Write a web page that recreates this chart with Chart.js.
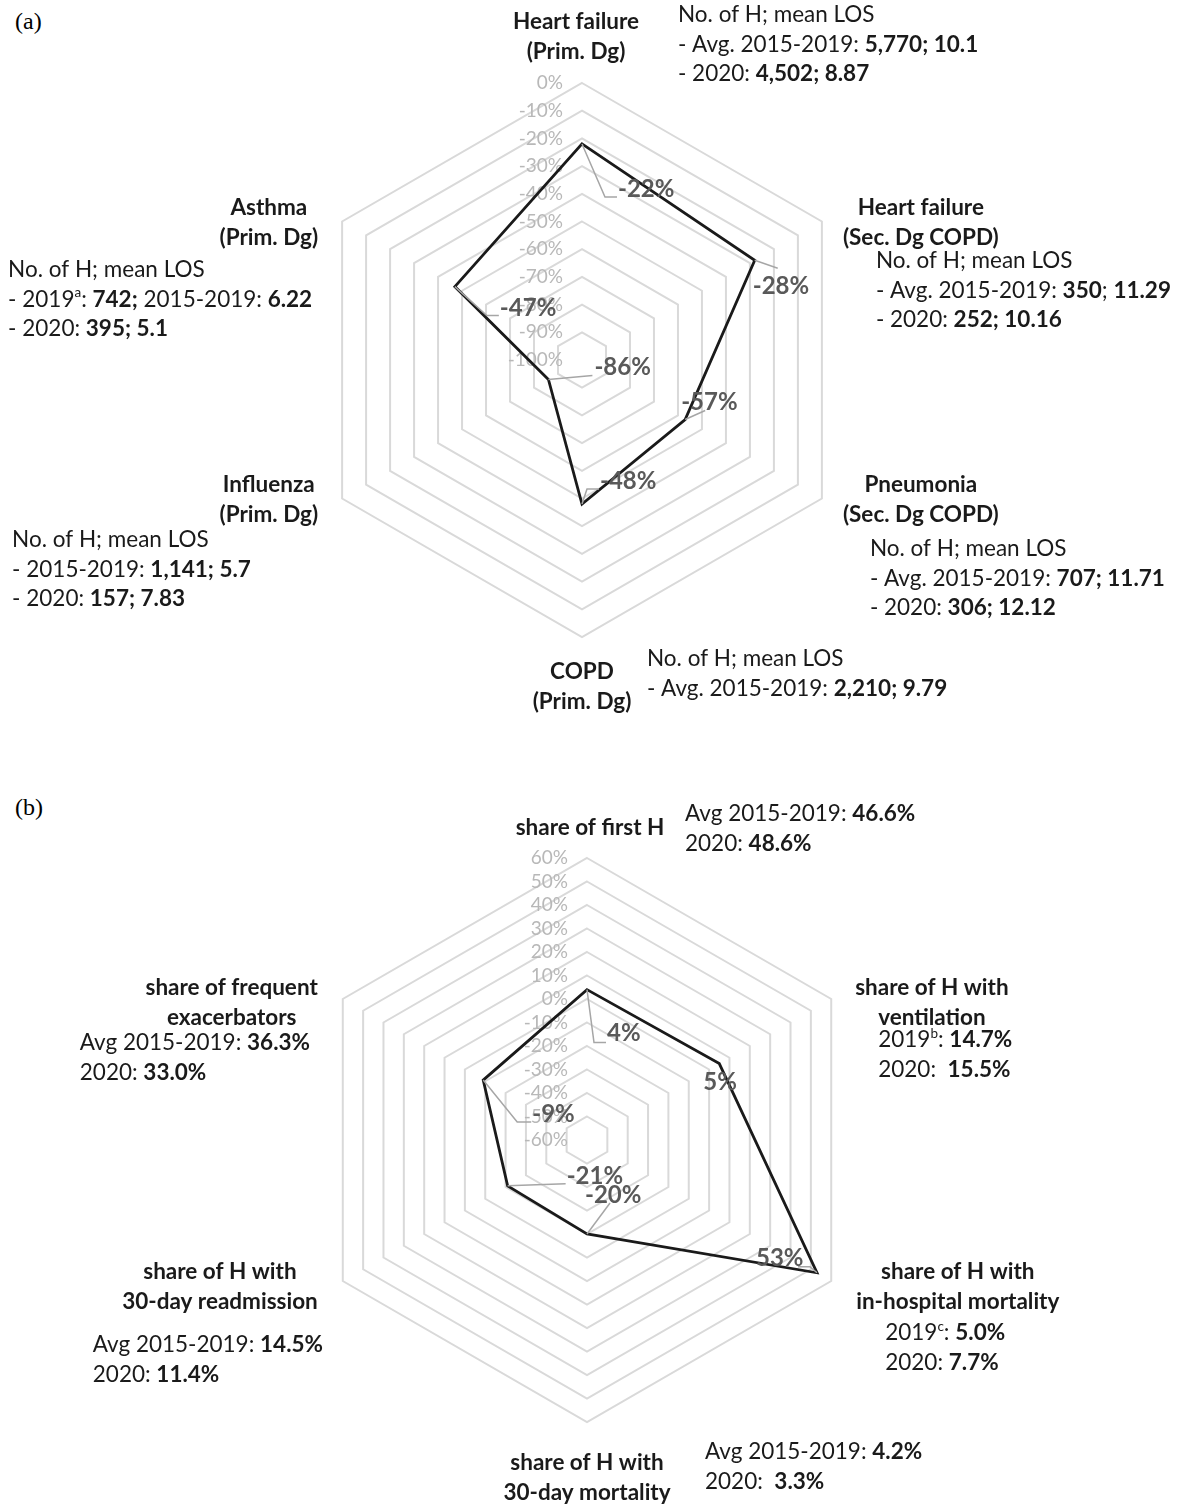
<!DOCTYPE html>
<html>
<head>
<meta charset="utf-8">
<script src="https://cdn.jsdelivr.net/npm/chart.js@4.4.1/dist/chart.umd.min.js"></script>
<style>
	body { margin: 0; background: #fff; width: 1178px; height: 1506px; position: relative; overflow: hidden; }
	canvas { position: absolute; left: 0; }
	#chart_a { top: 0; }
	#chart_b { top: 760px; }
	.panel { position: absolute; left: 15px; font-family: "Liberation Serif", "DejaVu Serif", serif; font-size: 24px; color: #000; }
</style>
</head>
<body>
<div class="panel" style="top: 8px">(a)</div>
<div class="panel" style="top: 794px">(b)</div>
<canvas id="chart_a" width="1178" height="760"></canvas>
<canvas id="chart_b" width="1178" height="746"></canvas>
<script>
// ------------------ DATA ---------------------------
const categories_a = [
	["Heart failure", "(Prim. Dg)"],
	["Heart failure", "(Sec. Dg COPD)"],
	["Pneumonia", "(Sec. Dg COPD)"],
	["COPD", "(Prim. Dg)"],
	["Influenza", "(Prim. Dg)"],
	["Asthma", "(Prim. Dg)"],
];
const change_a = [-22, -28, -57, -48, -86, -47];
const ticks_a = [0, -10, -20, -30, -40, -50, -60, -70, -80, -90, -100];

const categories_b = [
	["share of first H"],
	["share of H with", "ventilation"],
	["share of H with", "in-hospital mortality"],
	["share of H with", "30-day mortality"],
	["share of H with", "30-day readmission"],
	["share of frequent", "exacerbators"],
];
const change_b = [4, 5, 53, -20, -21, -9];
const ticks_b = [60, 50, 40, 30, 20, 10, 0, -10, -20, -30, -40, -50, -60];

// notes next to each axis: runs of [text, style] (n normal, b bold, s superscript)
const notes_a = [
	[[["No. of H; mean LOS", "n"]], [["- Avg. 2015-2019: ", "n"], ["5,770; 10.1", "b"]], [["- 2020: ", "n"], ["4,502; 8.87", "b"]]],
	[[["No. of H; mean LOS", "n"]], [["- Avg. 2015-2019: ", "n"], ["350", "b"], ["; ", "n"], ["11.29", "b"]], [["- 2020: ", "n"], ["252; 10.16", "b"]]],
	[[["No. of H; mean LOS", "n"]], [["- Avg. 2015-2019: ", "n"], ["707; 11.71", "b"]], [["- 2020: ", "n"], ["306; 12.12", "b"]]],
	[[["No. of H; mean LOS", "n"]], [["- Avg. 2015-2019: ", "n"], ["2,210; 9.79", "b"]]],
	[[["No. of H; mean LOS", "n"]], [["- 2015-2019: ", "n"], ["1,141; 5.7", "b"]], [["- 2020: ", "n"], ["157; 7.83", "b"]]],
	[[["No. of H; mean LOS", "n"]], [["- 2019", "n"], ["a", "s"], [": ", "n"], ["742;", "b"], [" 2015-2019: ", "n"], ["6.22", "b"]], [["- 2020: ", "n"], ["395; 5.1", "b"]]],
];
const notes_b = [
	[[["Avg 2015-2019: ", "n"], ["46.6%", "b"]], [["2020: ", "n"], ["48.6%", "b"]]],
	[[["2019", "n"], ["b", "s"], [": ", "n"], ["14.7%", "b"]], [["2020:  ", "n"], ["15.5%", "b"]]],
	[[["2019", "n"], ["c", "s"], [": ", "n"], ["5.0%", "b"]], [["2020: ", "n"], ["7.7%", "b"]]],
	[[["Avg 2015-2019: ", "n"], ["4.2%", "b"]], [["2020:  ", "n"], ["3.3%", "b"]]],
	[[["Avg 2015-2019: ", "n"], ["14.5%", "b"]], [["2020: ", "n"], ["11.4%", "b"]]],
	[[["Avg 2015-2019: ", "n"], ["36.3%", "b"]], [["2020: ", "n"], ["33.0%", "b"]]],
];

// ------------------ LAYOUT ---------------------------
const FONT = "Lato, 'Open Sans', sans-serif";
const TEXT_SIZE = 22.5;
const VALUE_SIZE = 24;
const TICK_SIZE = 19;
const LINE = 29.6;

// per chart: category label [align, dx, dy] from the outer vertex,
// note block [dx, dy] from the outer vertex, value label {t: [dx, dy], l: leader points}
const layouts = {
	chart_a: {
		cats: [["center", -6, -61], ["left", 21, -13.5], ["left", 21, -13.5], ["center", 0, 35], ["right", -24, -13.5], ["right", -24, -13.5]],
		notes: [[96, -68], [54, 39.5], [48, 50.5], [65, 22], [-330, 41.5], [-334, 48.5]],
		values: [
			{ t: [36, 45], l: [[23, 53], [35, 53]] },
			{ t: [-2, 26], l: [[23, 8]] },
			{ t: [-4, -17], l: [[20, -9]] },
			{ t: [18, -23], l: [[5, -15], [17, -15]] },
			{ t: [46, -12], l: [[44, -4]] },
			{ t: [45, 22], l: [[32, 29], [44, 29]] },
		],
	},
	chart_b: {
		cats: [["center", 3, -30], ["left", 24, -11], ["left", 25, -9], ["center", 0, 41], ["right", -25, -9], ["right", -25, -11]],
		notes: [[98, -44], [47, 41], [54, 52], [118, 30], [-250, 64], [-263, 44]],
		values: [
			{ t: [20, 44], l: [[7, 53], [19, 53]] },
			{ t: [-16, 19], l: [] },
			{ t: [-61, -15], l: [[-7, -6], [-19, -6]] },
			{ t: [-2, -39], l: [[23, -31]] },
			{ t: [59, -10], l: [[58, -2]] },
			{ t: [49, 34], l: [[34, 42], [48, 42]] },
		],
	},
};

function set_font(ctx, style) {
	if (style == "b") {
		ctx.font = `bold ${TEXT_SIZE}px ${FONT}`;
	} else if (style == "s") {
		ctx.font = `${TEXT_SIZE * 0.6}px ${FONT}`;
	} else {
		ctx.font = `${TEXT_SIZE}px ${FONT}`;
	}
}

function draw_runs(ctx, x, y, runs) {
	ctx.textAlign = "left";
	ctx.textBaseline = "middle";
	for (const run of runs) {
		set_font(ctx, run[1]);
		const dy = run[1] == "s" ? -TEXT_SIZE * 0.3 : 0;
		ctx.fillText(run[0], x, y + dy);
		x += ctx.measureText(run[0]).width;
	}
}

const radar_text = {
	id: "radar_text",
	beforeDatasetsDraw(chart) {
		// tick labels sit left of the vertical axis, under the line
		const scale = chart.scales.r;
		const ctx = chart.ctx;
		ctx.save();
		ctx.font = `${TICK_SIZE}px ${FONT}`;
		ctx.fillStyle = "#b8b8b8";
		ctx.textAlign = "right";
		ctx.textBaseline = "middle";
		for (const tick of scale.ticks) {
			const d = scale.getDistanceFromCenterForValue(tick.value);
			ctx.fillText(Math.round(tick.value) + "%", scale.xCenter - 19, scale.yCenter - d);
		}
		ctx.restore();
	},
	afterDatasetsDraw(chart) {
		const scale = chart.scales.r;
		const ctx = chart.ctx;
		const lay = layouts[chart.canvas.id];
		const values = chart.data.datasets[0].data;
		const notes = chart.canvas.id == "chart_a" ? notes_a : notes_b;
		ctx.save();

		// value labels with leader lines
		values.forEach((v, i) => {
			const p = scale.getPointPositionForValue(i, v);
			const vl = lay.values[i];
			if (vl.l.length > 0) {
				ctx.beginPath();
				ctx.moveTo(p.x, p.y);
				for (const q of vl.l) {
					ctx.lineTo(p.x + q[0], p.y + q[1]);
				}
				ctx.strokeStyle = "#a6a6a6";
				ctx.lineWidth = 1.5;
				ctx.stroke();
			}
			ctx.font = `bold ${VALUE_SIZE}px ${FONT}`;
			ctx.fillStyle = "#595959";
			ctx.textAlign = "left";
			ctx.textBaseline = "middle";
			ctx.fillText(v + "%", p.x + vl.t[0], p.y + vl.t[1]);
		});

		// category labels
		ctx.fillStyle = "#1a1a1a";
		chart.data.labels.forEach((lines, i) => {
			const p = scale.getPointPosition(i, scale.drawingArea);
			const c = lay.cats[i];
			ctx.font = `bold ${TEXT_SIZE}px ${FONT}`;
			ctx.textAlign = "center";
			ctx.textBaseline = "middle";
			const w = Math.max(...lines.map((l) => ctx.measureText(l).width));
			let cx = p.x + c[1];
			if (c[0] == "left") cx += w / 2;
			if (c[0] == "right") cx -= w / 2;
			lines.forEach((l, k) => {
				ctx.fillText(l, cx, p.y + c[2] + k * LINE);
			});

			// note block
			const n = lay.notes[i];
			notes[i].forEach((runs, k) => {
				draw_runs(ctx, p.x + n[0], p.y + n[1] + k * LINE, runs);
			});
		});
		ctx.restore();
	},
};

function make_radar(id, labels, values, tick_values, padding) {
	const ctx = document.getElementById(id).getContext("2d");
	return new Chart(ctx, {
		type: "radar",
		data: {
			labels: labels,
			datasets: [
				{
					data: values,
					borderColor: "#1a1a1a",
					borderWidth: 2.8,
					backgroundColor: "rgba(0,0,0,0)",
					fill: false,
					pointRadius: 0,
					pointHoverRadius: 0,
				},
			],
		},
		options: {
			responsive: false,
			animation: false,
			layout: { padding: padding },
			plugins: {
				legend: { display: false },
				tooltip: { enabled: false },
			},
			elements: { line: { tension: 0 } },
			scales: {
				r: {
					min: Math.min(...tick_values),
					max: Math.max(...tick_values),
					ticks: { stepSize: 10, display: false },
					grid: { color: "#d9d9d9", lineWidth: 2 },
					angleLines: { display: false },
					pointLabels: { display: false },
				},
			},
		},
		plugins: [radar_text],
	});
}

make_radar("chart_a", categories_a, change_a, ticks_a, { left: 305, right: 319, top: 83, bottom: 123 });
make_radar("chart_b", categories_b, change_b, ticks_b, { left: 305, right: 309, top: 98, bottom: 84 });
</script>
</body>
</html>
